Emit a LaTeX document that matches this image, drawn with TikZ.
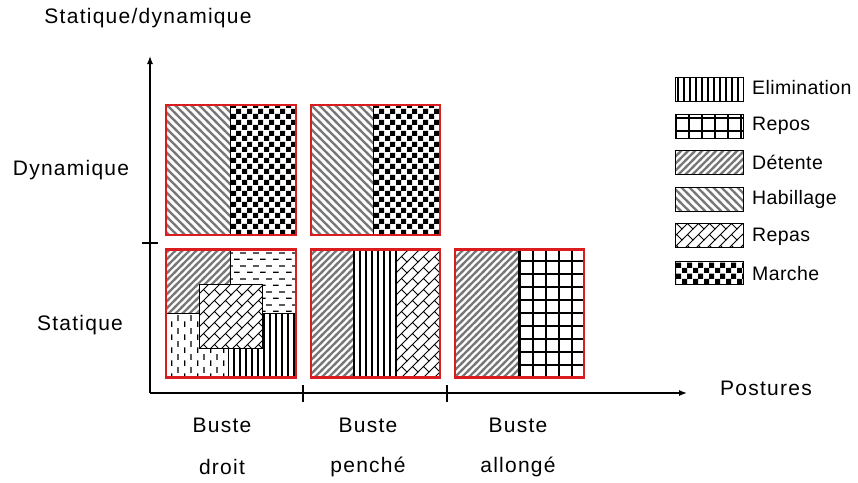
\documentclass[tikz,border=0pt]{standalone}
\usepackage{fontspec}
\setmainfont{Liberation Sans}
\newfontfamily\labfont[LetterSpace=6]{Liberation Sans}
\newfontfamily\legfont[LetterSpace=2]{Liberation Sans}
\usetikzlibrary{patterns,arrows.meta}

\pgfdeclarepatternformonly{detente}{\pgfqpoint{-2pt}{-2pt}}{\pgfqpoint{9pt}{9pt}}{\pgfqpoint{7pt}{7pt}}{%
  \pgfsetlinewidth{2.2pt}%
  \pgfpathmoveto{\pgfqpoint{-2pt}{-2pt}}\pgfpathlineto{\pgfqpoint{9pt}{9pt}}%
  \pgfusepath{stroke}}
\pgfdeclarepatternformonly{habillage}{\pgfqpoint{-2pt}{-2pt}}{\pgfqpoint{10pt}{10pt}}{\pgfqpoint{8pt}{8pt}}{%
  \pgfsetlinewidth{2.4pt}%
  \pgfpathmoveto{\pgfqpoint{-2pt}{10pt}}\pgfpathlineto{\pgfqpoint{10pt}{-2pt}}%
  \pgfusepath{stroke}}
\pgfdeclarepatternformonly{marche}{\pgfqpoint{0pt}{0pt}}{\pgfqpoint{11pt}{11pt}}{\pgfqpoint{11pt}{11pt}}{%
  \pgfpathrectangle{\pgfqpoint{0pt}{0pt}}{\pgfqpoint{5.5pt}{5.5pt}}%
  \pgfpathrectangle{\pgfqpoint{5.5pt}{5.5pt}}{\pgfqpoint{5.5pt}{5.5pt}}%
  \pgfusepath{fill}}
\pgfdeclarepatternformonly{repos}{\pgfqpoint{-1pt}{-1pt}}{\pgfqpoint{14pt}{14pt}}{\pgfqpoint{13pt}{13pt}}{%
  \pgfsetlinewidth{1.3pt}%
  \pgfpathmoveto{\pgfqpoint{0pt}{-1pt}}\pgfpathlineto{\pgfqpoint{0pt}{14pt}}%
  \pgfpathmoveto{\pgfqpoint{-1pt}{0pt}}\pgfpathlineto{\pgfqpoint{14pt}{0pt}}%
  \pgfusepath{stroke}}
\pgfdeclarepatternformonly{elim}{\pgfqpoint{-1pt}{-1pt}}{\pgfqpoint{7pt}{7pt}}{\pgfqpoint{6pt}{6pt}}{%
  \pgfsetlinewidth{1.1pt}%
  \pgfpathmoveto{\pgfqpoint{0pt}{-1pt}}\pgfpathlineto{\pgfqpoint{0pt}{7pt}}%
  \pgfusepath{stroke}}
\pgfdeclarepatternformonly{repas}{\pgfqpoint{-1pt}{-1pt}}{\pgfqpoint{12pt}{12pt}}{\pgfqpoint{11pt}{11pt}}{%
  \pgfsetlinewidth{1pt}%
  \pgfpathmoveto{\pgfqpoint{-1pt}{-1pt}}\pgfpathlineto{\pgfqpoint{12pt}{12pt}}%
  \pgfpathmoveto{\pgfqpoint{5.5pt}{5.5pt}}\pgfpathlineto{\pgfqpoint{11pt}{0pt}}%
  \pgfusepath{stroke}}
\pgfdeclarepatternformonly{hdash}{\pgfqpoint{0pt}{0pt}}{\pgfqpoint{13pt}{13pt}}{\pgfqpoint{13pt}{13pt}}{%
  \pgfsetlinewidth{1.4pt}%
  \pgfpathmoveto{\pgfqpoint{0pt}{3pt}}\pgfpathlineto{\pgfqpoint{6pt}{3pt}}%
  \pgfpathmoveto{\pgfqpoint{6.5pt}{9.5pt}}\pgfpathlineto{\pgfqpoint{12.5pt}{9.5pt}}%
  \pgfusepath{stroke}}
\pgfdeclarepatternformonly{vdash}{\pgfqpoint{0pt}{0pt}}{\pgfqpoint{13pt}{13pt}}{\pgfqpoint{13pt}{13pt}}{%
  \pgfsetlinewidth{1.4pt}%
  \pgfpathmoveto{\pgfqpoint{3pt}{0pt}}\pgfpathlineto{\pgfqpoint{3pt}{6pt}}%
  \pgfpathmoveto{\pgfqpoint{9.5pt}{6.5pt}}\pgfpathlineto{\pgfqpoint{9.5pt}{12.5pt}}%
  \pgfusepath{stroke}}

\definecolor{myred}{RGB}{218,28,32}
\definecolor{stripe}{RGB}{120,120,120}

\begin{document}
\begin{tikzpicture}[x=1pt,y=-1pt,
  region/.style={draw=black,line width=0.9pt},
  pDet/.style={region,pattern=detente,pattern color=stripe},
  pHab/.style={region,pattern=habillage,pattern color=stripe},
  pMar/.style={region,pattern=marche,pattern color=black},
  pRep/.style={region,pattern=repos,pattern color=black},
  pElim/.style={region,pattern=elim,pattern color=black},
  pRepas/.style={region,pattern=repas,pattern color=black},
  pHd/.style={region,pattern=hdash,pattern color=black},
  pVd/.style={region,pattern=vdash,pattern color=black},
  redbox/.style={draw=myred,line width=2.6pt},
  axis/.style={line width=1.2pt,-{Latex[length=8pt,width=6pt]}},
  tick/.style={line width=2.8pt},
  lab/.style={font=\labfont\fontsize{21}{24}\selectfont,inner sep=0pt},
  leg/.style={font=\legfont\fontsize{19.5}{22}\selectfont,inner sep=0pt,anchor=west},
  legbox/.style={line width=1pt}]
\useasboundingbox (0,0) rectangle (858,482);

% axes
\coordinate (O) at (150,393);
\coordinate (Ytop) at (150,56);
\coordinate (Xend) at (687,393);
\draw[axis] (O) -- (Ytop);
\draw[axis] (O) -- (Xend);
\coordinate (ty1) at (142,243); \coordinate (ty2) at (158,243);
\draw[tick] (ty1) -- (ty2);
\coordinate (tx1a) at (303,385); \coordinate (tx1b) at (303,402);
\coordinate (tx2a) at (447,385); \coordinate (tx2b) at (447,402);
\draw[tick] (tx1a) -- (tx1b);
\draw[tick] (tx2a) -- (tx2b);

% labels
\node[lab] (ylab) at (148,18) {Statique/dynamique};
\node[lab] (dyn) at (71,170) {Dynamique};
\node[lab] (sta) at (80,325) {Statique};
\node[lab] (xlab) at (766,388) {Postures};
\node[lab] (b1) at (222,425) {Buste};
\node[lab] (b1b) at (222,467) {droit};
\node[lab] (b2) at (368,425) {Buste};
\node[lab] (b2b) at (368,467) {penché};
\node[lab] (b3) at (518,425) {Buste};
\node[lab] (b3b) at (518,467) {allongé};

% top row, box 1
\path[pHab] (166,105) rectangle (230,235);
\path[pMar] (230,105) rectangle (296,235);
\node[redbox,inner sep=0pt,minimum width=130pt,minimum height=130pt] (d1) at (231,170) {};
% top row, box 2
\path[pHab] (311,105) rectangle (373,235);
\path[pMar] (373,105) rectangle (440,235);
\node[redbox,inner sep=0pt,minimum width=129pt,minimum height=130pt] (d2) at (375.5,170) {};

% bottom row, box 1
\path[pDet] (166,250) rectangle (230,313);
\path[pHd] (230,250) rectangle (296,313);
\path[pVd] (166,313) rectangle (228,377);
\path[pElim] (228,313) rectangle (296,377);
\path[fill=white] (199,284) rectangle (262,348);
\path[pRepas] (199,284) rectangle (262,348);
\node[redbox,inner sep=0pt,minimum width=130pt,minimum height=128pt] (s1) at (231,313.5) {};
% bottom row, box 2
\path[pDet] (311,250) rectangle (353,377);
\path[pElim] (353,250) rectangle (396,377);
\path[pRepas] (396,250) rectangle (440,377);
\draw[line width=1.8pt] (396,250) -- (396,377);
\node[redbox,inner sep=0pt,minimum width=129pt,minimum height=128pt] (s2) at (375.5,313.5) {};
% bottom row, box 3
\path[pDet] (455,250) rectangle (518,377);
\path[pRep] (518,250) rectangle (584,377);
\node[redbox,inner sep=0pt,minimum width=129pt,minimum height=128pt] (s3) at (519.5,313.5) {};

% legend
\path[pElim,legbox] (675,77) rectangle (743,101);
\node[leg] (l1) at (752,88) {Elimination};
\path[pRep,legbox] (675,114) rectangle (743,138);
\node[leg] (l2) at (752,126) {Repos};
\path[pDet,legbox] (675,150) rectangle (743,174);
\node[leg] (l3) at (752,162) {Détente};
\path[pHab,legbox] (675,187) rectangle (743,211);
\node[leg] (l4) at (752,199) {Habillage};
\path[pRepas,legbox] (675,223) rectangle (743,247);
\node[leg] (l5) at (752,237) {Repas};
\path[pMar,legbox] (675,261) rectangle (743,284);
\node[leg] (l6) at (752,274) {Marche};
\end{tikzpicture}
\end{document}
